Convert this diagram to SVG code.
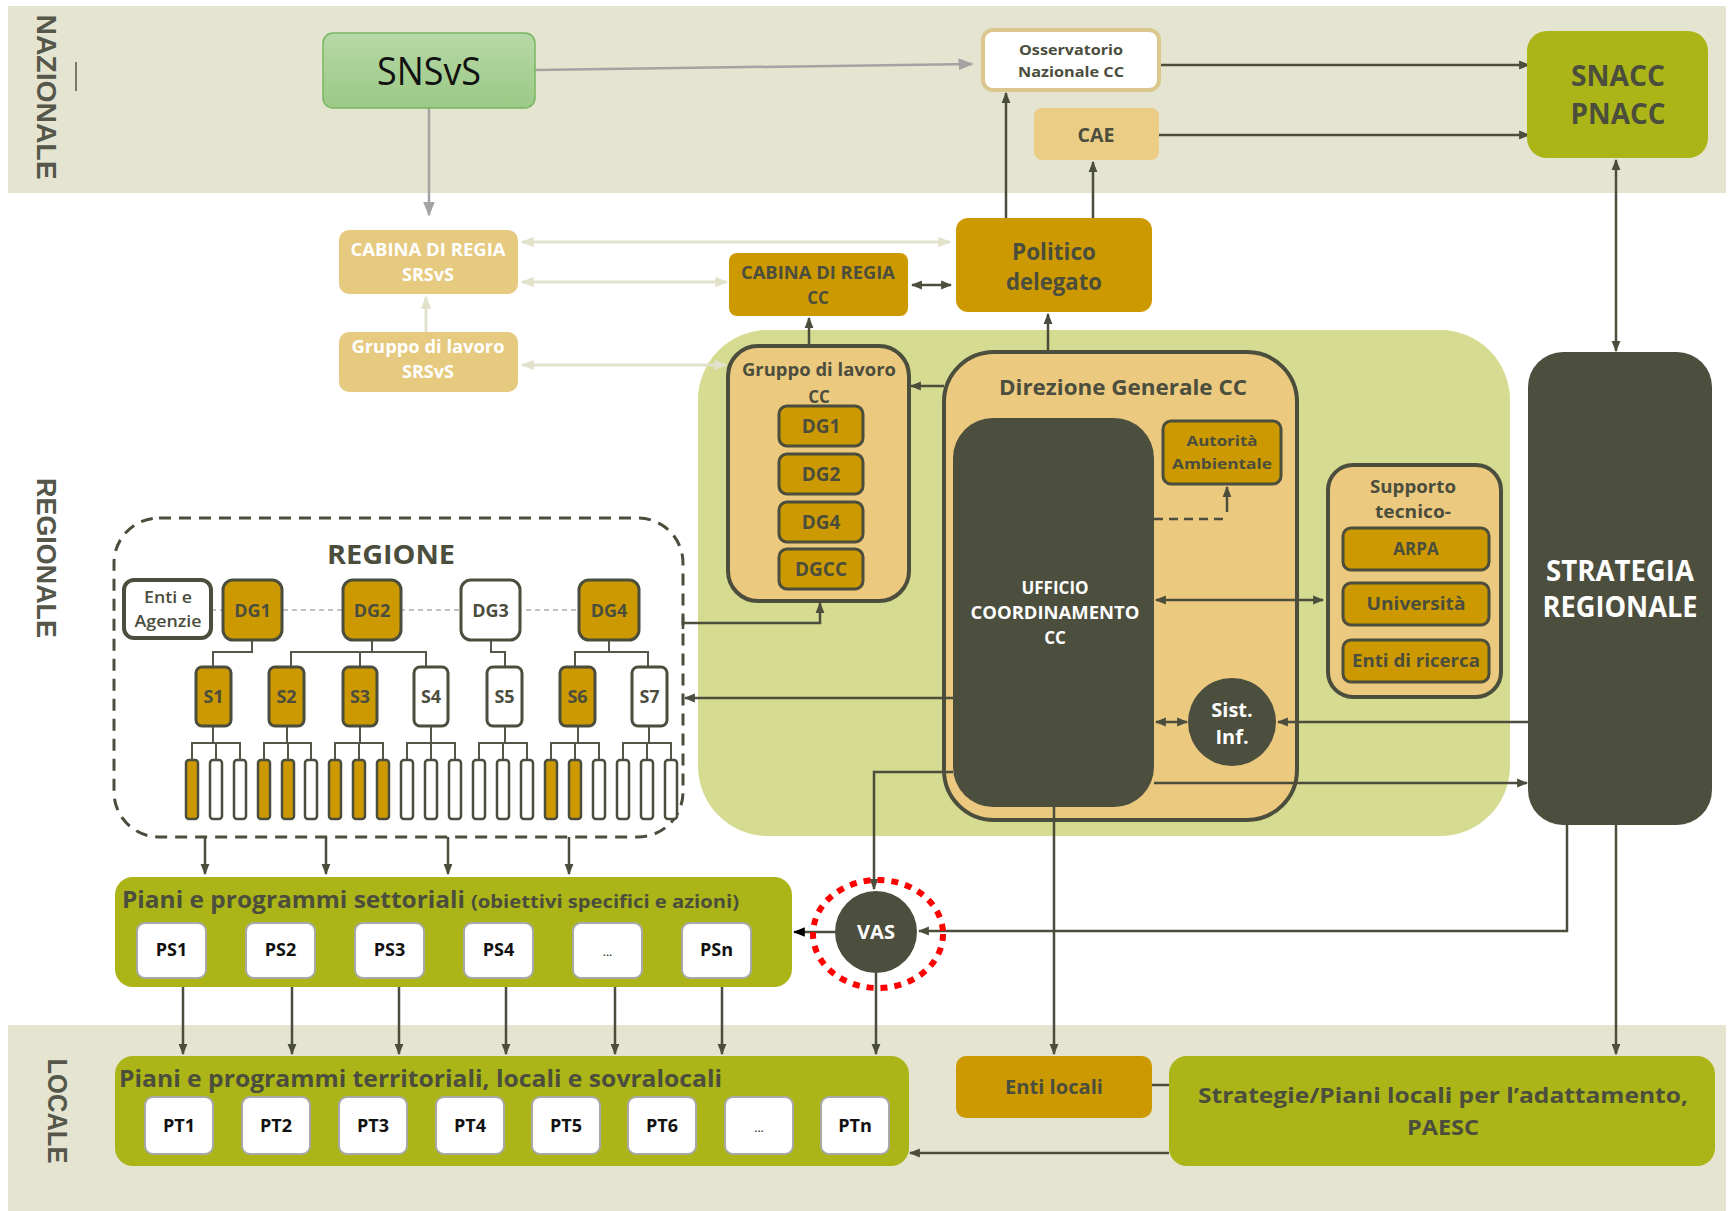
<svg xmlns="http://www.w3.org/2000/svg" width="1731" height="1211" viewBox="0 0 1731 1211">
<defs>
<linearGradient id="gSn" x1="0" y1="0" x2="0" y2="1"><stop offset="0" stop-color="#B7D8A7"/><stop offset="1" stop-color="#9BC985"/></linearGradient>
<marker id="ad" viewBox="0 0 10 10" refX="9" refY="5" markerWidth="11" markerHeight="11" markerUnits="userSpaceOnUse" orient="auto-start-reverse"><path d="M0,1 L10,5 L0,9 z" fill="#4B4D3D"/></marker>
<marker id="ag" viewBox="0 0 10 10" refX="9" refY="5" markerWidth="15" markerHeight="15" markerUnits="userSpaceOnUse" orient="auto-start-reverse"><path d="M0,1 L10,5 L0,9 z" fill="#A3A3A3"/></marker>
<marker id="al" viewBox="0 0 10 10" refX="9" refY="5" markerWidth="13" markerHeight="13" markerUnits="userSpaceOnUse" orient="auto-start-reverse"><path d="M0,1 L10,5 L0,9 z" fill="#E2E1CC"/></marker>
<marker id="ak" viewBox="0 0 10 10" refX="9" refY="5" markerWidth="12" markerHeight="12" markerUnits="userSpaceOnUse" orient="auto-start-reverse"><path d="M0,1 L10,5 L0,9 z" fill="#000"/></marker>
<style>
.t{font-family:"Open Sans","Noto Sans","DejaVu Sans",sans-serif;font-weight:700;fill:#4B4D3D;text-anchor:middle}
.w{fill:#FFFFFF}
.k{fill:#111111}
.lbl{font-family:"Liberation Sans",Arial,sans-serif;font-weight:700;fill:#55574A;text-anchor:middle}
.band{fill:#E5E4D1}
.gold{fill:#CC9A00}
.goldb{fill:#CC9A00;stroke:#4B4D3D;stroke-width:3}
.wb{fill:#FFFFFF;stroke:#4B4D3D;stroke-width:3}
.tan{fill:#EBC97F;stroke:#4B4D3D;stroke-width:4}
.dark{fill:#4C4E3E}
.olive{fill:#ABB517}
.pbox{fill:#FFFFFF;stroke:#A8A8A8;stroke-width:2}
.c{fill:none;stroke:#4B4D3D;stroke-width:2.5}
.ct{fill:none;stroke:#55574A;stroke-width:2}
.cg{fill:none;stroke:#A3A3A3;stroke-width:2.5}
.cl{fill:none;stroke:#E2E1CC;stroke-width:3}
.bar{stroke:#4B4D3D;stroke-width:2.5}
</style>
</defs>
<rect width="1731" height="1211" fill="#FFFFFF"/>

<g id="bands">
<rect class="band" x="8" y="6" width="1718" height="187"/>
<rect class="band" x="8" y="1025" width="1718" height="186"/>
<text class="lbl" font-size="28" textLength="165" lengthAdjust="spacingAndGlyphs" transform="translate(36.5,97) rotate(90)">NAZIONALE</text>
<text class="lbl" font-size="28" textLength="160" lengthAdjust="spacingAndGlyphs" transform="translate(37,558) rotate(90)">REGIONALE</text>
<text class="lbl" font-size="28" textLength="105" lengthAdjust="spacingAndGlyphs" transform="translate(47.5,1111) rotate(90)">LOCALE</text>
<line x1="76" y1="62" x2="76" y2="91" stroke="#55574A" stroke-width="1.5"/>
</g>

<g id="area-regionale">
<rect x="698" y="330" width="812" height="506" rx="70" fill="#D5DB90"/>
</g>

<g id="regione">
<rect x="114" y="518" width="569" height="319" rx="45" fill="none" stroke="#4B4D3D" stroke-width="3" stroke-dasharray="12 8"/>
<text class="t" x="391" y="564" font-size="26" textLength="128" lengthAdjust="spacingAndGlyphs">REGIONE</text>
</g>

<g id="direzione">
<rect class="tan" x="944" y="352" width="353" height="468" rx="50"/>
<text class="t" x="1123" y="395" font-size="22" textLength="248" lengthAdjust="spacingAndGlyphs">Direzione Generale CC</text>
</g>

<g id="gruppo-cc">
<rect class="tan" x="728" y="346" width="181" height="255" rx="30"/>
<text class="t" x="819" y="376" font-size="17" textLength="154" lengthAdjust="spacingAndGlyphs">Gruppo di lavoro</text>
<text class="t" x="819" y="403" font-size="17">CC</text>
</g>

<g id="supporto">
<rect class="tan" x="1328" y="465" width="173" height="232" rx="25"/>
<text class="t" x="1413" y="493" font-size="17" textLength="86" lengthAdjust="spacingAndGlyphs">Supporto</text>
<text class="t" x="1413" y="518" font-size="17" textLength="76" lengthAdjust="spacingAndGlyphs">tecnico-</text>
</g>

<g id="connectors">
<path class="cg" d="M429,108 V215" marker-end="url(#ag)"/>
<path class="cg" d="M535,70 L972,64" marker-end="url(#ag)"/>
<path class="cl" d="M522,242 H950" marker-start="url(#al)" marker-end="url(#al)"/>
<path class="cl" d="M522,282 H727" marker-start="url(#al)" marker-end="url(#al)"/>
<path class="cl" d="M522,365 H726" marker-start="url(#al)" marker-end="url(#al)"/>
<path class="cl" d="M426,332 V297" marker-end="url(#al)"/>
<path class="c" d="M1006,218 V93" marker-end="url(#ad)"/>
<path class="c" d="M1093,218 V162" marker-end="url(#ad)"/>
<path class="c" d="M1159,65 H1529" marker-end="url(#ad)"/>
<path class="c" d="M1159,135 H1529" marker-end="url(#ad)"/>
<path class="c" d="M1616,160 V351" marker-start="url(#ad)" marker-end="url(#ad)"/>
<path class="c" d="M912,285 H951" marker-start="url(#ad)" marker-end="url(#ad)"/>
<path class="c" d="M809,346 V318" marker-end="url(#ad)"/>
<path class="c" d="M1048,352 V314" marker-end="url(#ad)"/>
<path class="c" d="M944,386 H911" marker-end="url(#ad)"/>
<path class="c" d="M683,623 H820 V603" marker-end="url(#ad)"/>
<path class="c" d="M683,617 V629"/>
<path class="c" d="M953,698 H685" marker-end="url(#ad)"/>
<path class="c" d="M953,772 H874 V889" marker-end="url(#ad)"/>
<path class="c" d="M1154,783 H1527" marker-end="url(#ad)"/>
<path class="c" d="M1528,722 H1278" marker-end="url(#ad)"/>
<path class="c" d="M1156,722 H1187" marker-start="url(#ad)" marker-end="url(#ad)"/>
<path class="c" d="M1156,600 H1323" marker-start="url(#ad)" marker-end="url(#ad)"/>
<path class="c" d="M1154,519 H1227" stroke-dasharray="9 6"/>
<path class="c" d="M1227,512 V487" marker-end="url(#ad)"/>
<path class="c" d="M1054,807 V1054" marker-end="url(#ad)"/>
<path class="c" d="M1567,825 V931 H919" marker-end="url(#ad)"/>
<path class="c" d="M835,932 H794" stroke="#000" marker-end="url(#ak)"/>
<path class="c" d="M876,973 V1054" marker-end="url(#ad)"/>
<path class="c" d="M1616,825 V1054" marker-end="url(#ad)"/>
<path class="c" d="M1169,1153 H910" marker-end="url(#ad)"/>
<path class="c" d="M1152,1085 H1169"/>
<path class="c" d="M205,837 V874" marker-end="url(#ad)"/>
<path class="c" d="M326,837 V874" marker-end="url(#ad)"/>
<path class="c" d="M448,837 V874" marker-end="url(#ad)"/>
<path class="c" d="M569,837 V874" marker-end="url(#ad)"/>
<path class="c" d="M183,987 V1054" marker-end="url(#ad)"/>
<path class="c" d="M292,987 V1054" marker-end="url(#ad)"/>
<path class="c" d="M399,987 V1054" marker-end="url(#ad)"/>
<path class="c" d="M506,987 V1054" marker-end="url(#ad)"/>
<path class="c" d="M615,987 V1054" marker-end="url(#ad)"/>
<path class="c" d="M722,987 V1054" marker-end="url(#ad)"/>
<line x1="211" y1="610" x2="579" y2="610" stroke="#AFAFAF" stroke-width="1.5" stroke-dasharray="5 4"/>
<path class="ct" d="M252,640 V652 H213 V667"/>
<path class="ct" d="M372,640 V652 M291,667 V652 H426 V667 M360,652 V667"/>
<path class="ct" d="M491,640 V652 H505 V667"/>
<path class="ct" d="M609,640 V652 M575,667 V652 H648 V667"/>
<path class="ct" d="M213,726 V743 M192,760 V743 H240 V760 M216,743 V760"/>
<path class="ct" d="M287,726 V743 M264,760 V743 H311 V760 M288,743 V760"/>
<path class="ct" d="M360,726 V743 M335,760 V743 H383 V760 M359,743 V760"/>
<path class="ct" d="M431,726 V743 M407,760 V743 H455 V760 M431,743 V760"/>
<path class="ct" d="M505,726 V743 M479,760 V743 H527 V760 M503,743 V760"/>
<path class="ct" d="M578,726 V743 M551,760 V743 H599 V760 M575,743 V760"/>
<path class="ct" d="M649,726 V743 M623,760 V743 H671 V760 M647,743 V760"/>
</g>

<g id="snsvs">
<rect x="323" y="33" width="212" height="75" rx="10" fill="url(#gSn)" stroke="#79B661" stroke-width="1.5"/>
<text class="t k" x="429" y="85" font-size="38" style="font-weight:400" textLength="104" lengthAdjust="spacingAndGlyphs">SNSvS</text>
</g>

<g id="osservatorio">
<rect x="983" y="30" width="176" height="60" rx="10" fill="#FFFFFF" stroke="#DCC78E" stroke-width="4"/>
<text class="t" x="1071" y="55" font-size="15" textLength="104" lengthAdjust="spacingAndGlyphs">Osservatorio</text>
<text class="t" x="1071" y="77" font-size="15" textLength="106" lengthAdjust="spacingAndGlyphs">Nazionale CC</text>
</g>

<g id="cae">
<rect x="1034" y="108" width="125" height="52" rx="8" fill="#EBCD86"/>
<text class="t" x="1096" y="142" font-size="20" textLength="37" lengthAdjust="spacingAndGlyphs">CAE</text>
</g>

<g id="snacc">
<rect class="olive" x="1527" y="31" width="181" height="127" rx="20"/>
<text class="t" x="1618" y="86" font-size="29" textLength="94" lengthAdjust="spacingAndGlyphs">SNACC</text>
<text class="t" x="1618" y="124" font-size="29" textLength="95" lengthAdjust="spacingAndGlyphs">PNACC</text>
</g>

<g id="politico">
<rect class="gold" x="956" y="218" width="196" height="94" rx="12"/>
<text class="t" x="1054" y="260" font-size="24" textLength="84" lengthAdjust="spacingAndGlyphs">Politico</text>
<text class="t" x="1054" y="290" font-size="24" textLength="96" lengthAdjust="spacingAndGlyphs">delegato</text>
</g>

<g id="cabina-cc">
<rect class="gold" x="729" y="253" width="179" height="63" rx="8"/>
<text class="t" x="818" y="279" font-size="17" textLength="154" lengthAdjust="spacingAndGlyphs">CABINA DI REGIA</text>
<text class="t" x="818" y="304" font-size="17">CC</text>
</g>

<g id="cabina-srsvs">
<rect x="339" y="230" width="179" height="64" rx="10" fill="#E6CA80"/>
<text class="t w" x="428" y="256" font-size="17" textLength="155" lengthAdjust="spacingAndGlyphs">CABINA DI REGIA</text>
<text class="t w" x="428" y="281" font-size="17" textLength="52" lengthAdjust="spacingAndGlyphs">SRSvS</text>
</g>

<g id="gruppo-srsvs">
<rect x="339" y="332" width="179" height="60" rx="10" fill="#E6CA80"/>
<text class="t w" x="428" y="353" font-size="17" textLength="153" lengthAdjust="spacingAndGlyphs">Gruppo di lavoro</text>
<text class="t w" x="428" y="378" font-size="17" textLength="52" lengthAdjust="spacingAndGlyphs">SRSvS</text>
</g>

<g id="gruppo-cc-dg1"><rect class="goldb" x="779" y="406" width="84" height="40" rx="8"/><text class="t" x="821" y="433" font-size="19">DG1</text></g>
<g id="gruppo-cc-dg2"><rect class="goldb" x="779" y="454" width="84" height="40" rx="8"/><text class="t" x="821" y="481" font-size="19">DG2</text></g>
<g id="gruppo-cc-dg4"><rect class="goldb" x="779" y="502" width="84" height="40" rx="8"/><text class="t" x="821" y="529" font-size="19">DG4</text></g>
<g id="gruppo-cc-dgcc"><rect class="goldb" x="779" y="549" width="84" height="40" rx="8"/><text class="t" x="821" y="576" font-size="19">DGCC</text></g>

<g id="ufficio">
<rect class="dark" x="953" y="418" width="201" height="389" rx="40"/>
<text class="t w" x="1055" y="594" font-size="17">UFFICIO</text>
<text class="t w" x="1055" y="619" font-size="17" textLength="169" lengthAdjust="spacingAndGlyphs">COORDINAMENTO</text>
<text class="t w" x="1055" y="644" font-size="17">CC</text>
</g>

<g id="autorita">
<rect class="goldb" x="1163" y="421" width="118" height="63" rx="8"/>
<text class="t" x="1222" y="446" font-size="15" textLength="71" lengthAdjust="spacingAndGlyphs">Autorità</text>
<text class="t" x="1222" y="469" font-size="15" textLength="100" lengthAdjust="spacingAndGlyphs">Ambientale</text>
</g>

<g id="sist-inf">
<circle class="dark" cx="1232" cy="722" r="44"/>
<text class="t w" x="1232" y="717" font-size="20">Sist.</text>
<text class="t w" x="1232" y="744" font-size="20">Inf.</text>
</g>

<g id="arpa"><rect class="goldb" x="1343" y="528" width="146" height="42" rx="8" stroke-width="3.5"/><text class="t" x="1416" y="555" font-size="17">ARPA</text></g>
<g id="universita"><rect class="goldb" x="1343" y="583" width="146" height="42" rx="8" stroke-width="3.5"/><text class="t" x="1416" y="610" font-size="17" textLength="99" lengthAdjust="spacingAndGlyphs">Università</text></g>
<g id="enti-ricerca"><rect class="goldb" x="1343" y="640" width="146" height="42" rx="8" stroke-width="3.5"/><text class="t" x="1416" y="667" font-size="17" textLength="128" lengthAdjust="spacingAndGlyphs">Enti di ricerca</text></g>

<g id="strategia-regionale">
<rect class="dark" x="1528" y="352" width="184" height="473" rx="35"/>
<text class="t w" x="1620" y="581" font-size="28" textLength="148" lengthAdjust="spacingAndGlyphs">STRATEGIA</text>
<text class="t w" x="1620" y="617" font-size="28" textLength="155" lengthAdjust="spacingAndGlyphs">REGIONALE</text>
</g>

<g id="enti-agenzie">
<rect x="124" y="580" width="87" height="58" rx="10" fill="#FFFFFF" stroke="#4B4D3D" stroke-width="4"/>
<text class="t" x="168" y="603" font-size="16" style="font-weight:600" textLength="48" lengthAdjust="spacingAndGlyphs">Enti e</text>
<text class="t" x="168" y="627" font-size="16" style="font-weight:600" textLength="67" lengthAdjust="spacingAndGlyphs">Agenzie</text>
</g>
<g id="dg1"><rect class="goldb" x="223" y="580" width="59" height="60" rx="10"/><text class="t" x="252.5" y="617" font-size="18">DG1</text></g>
<g id="dg2"><rect class="goldb" x="343" y="580" width="58" height="60" rx="10"/><text class="t" x="372" y="617" font-size="18">DG2</text></g>
<g id="dg3"><rect class="wb" x="461" y="580" width="59" height="60" rx="10"/><text class="t" x="490.5" y="617" font-size="18">DG3</text></g>
<g id="dg4"><rect class="goldb" x="579" y="580" width="60" height="60" rx="10"/><text class="t" x="609" y="617" font-size="18">DG4</text></g>

<g id="s1"><rect class="goldb" x="196" y="667" width="35" height="59" rx="6"/><text class="t" x="213.5" y="703" font-size="18">S1</text></g>
<g id="s2"><rect class="goldb" x="269" y="667" width="35" height="59" rx="6"/><text class="t" x="286.5" y="703" font-size="18">S2</text></g>
<g id="s3"><rect class="goldb" x="343" y="667" width="34" height="59" rx="6"/><text class="t" x="360" y="703" font-size="18">S3</text></g>
<g id="s4"><rect class="wb" x="414" y="667" width="34" height="59" rx="6"/><text class="t" x="431" y="703" font-size="18">S4</text></g>
<g id="s5"><rect class="wb" x="487" y="667" width="35" height="59" rx="6"/><text class="t" x="504.5" y="703" font-size="18">S5</text></g>
<g id="s6"><rect class="goldb" x="560" y="667" width="35" height="59" rx="6"/><text class="t" x="577.5" y="703" font-size="18">S6</text></g>
<g id="s7"><rect class="wb" x="632" y="667" width="35" height="59" rx="6"/><text class="t" x="649.5" y="703" font-size="18">S7</text></g>

<g id="uffici">
<rect class="bar" fill="#CC9A00" x="186" y="760" width="12" height="59" rx="3"/>
<rect class="bar" fill="#FFFFFF" x="210" y="760" width="12" height="59" rx="3"/>
<rect class="bar" fill="#FFFFFF" x="234" y="760" width="12" height="59" rx="3"/>
<rect class="bar" fill="#CC9A00" x="258" y="760" width="12" height="59" rx="3"/>
<rect class="bar" fill="#CC9A00" x="282" y="760" width="12" height="59" rx="3"/>
<rect class="bar" fill="#FFFFFF" x="305" y="760" width="12" height="59" rx="3"/>
<rect class="bar" fill="#CC9A00" x="329" y="760" width="12" height="59" rx="3"/>
<rect class="bar" fill="#CC9A00" x="353" y="760" width="12" height="59" rx="3"/>
<rect class="bar" fill="#CC9A00" x="377" y="760" width="12" height="59" rx="3"/>
<rect class="bar" fill="#FFFFFF" x="401" y="760" width="12" height="59" rx="3"/>
<rect class="bar" fill="#FFFFFF" x="425" y="760" width="12" height="59" rx="3"/>
<rect class="bar" fill="#FFFFFF" x="449" y="760" width="12" height="59" rx="3"/>
<rect class="bar" fill="#FFFFFF" x="473" y="760" width="12" height="59" rx="3"/>
<rect class="bar" fill="#FFFFFF" x="497" y="760" width="12" height="59" rx="3"/>
<rect class="bar" fill="#FFFFFF" x="521" y="760" width="12" height="59" rx="3"/>
<rect class="bar" fill="#CC9A00" x="545" y="760" width="12" height="59" rx="3"/>
<rect class="bar" fill="#CC9A00" x="569" y="760" width="12" height="59" rx="3"/>
<rect class="bar" fill="#FFFFFF" x="593" y="760" width="12" height="59" rx="3"/>
<rect class="bar" fill="#FFFFFF" x="617" y="760" width="12" height="59" rx="3"/>
<rect class="bar" fill="#FFFFFF" x="641" y="760" width="12" height="59" rx="3"/>
<rect class="bar" fill="#FFFFFF" x="665" y="760" width="12" height="59" rx="3"/>
</g>

<g id="piani-settoriali">
<rect class="olive" x="115" y="877" width="677" height="110" rx="18"/>
<text class="t" x="122" y="908" font-size="23" style="text-anchor:start" textLength="343" lengthAdjust="spacingAndGlyphs">Piani e programmi settoriali</text>
<text class="t" x="471" y="908" font-size="18" style="text-anchor:start" textLength="268" lengthAdjust="spacingAndGlyphs">(obiettivi specifici e azioni)</text>
</g>
<g id="ps1"><rect class="pbox" x="137" y="923" width="69" height="55" rx="8"/><text class="t k" x="171.5" y="956" font-size="18">PS1</text></g>
<g id="ps2"><rect class="pbox" x="246" y="923" width="69" height="55" rx="8"/><text class="t k" x="280.5" y="956" font-size="18">PS2</text></g>
<g id="ps3"><rect class="pbox" x="355" y="923" width="69" height="55" rx="8"/><text class="t k" x="389.5" y="956" font-size="18">PS3</text></g>
<g id="ps4"><rect class="pbox" x="464" y="923" width="69" height="55" rx="8"/><text class="t k" x="498.5" y="956" font-size="18">PS4</text></g>
<g id="ps-dots"><rect class="pbox" x="573" y="923" width="69" height="55" rx="8"/><text class="t k" x="607.5" y="956" font-size="12" style="font-weight:400">...</text></g>
<g id="psn"><rect class="pbox" x="682" y="923" width="69" height="55" rx="8"/><text class="t k" x="716.5" y="956" font-size="18">PSn</text></g>

<g id="vas">
<circle class="dark" cx="876" cy="932" r="41"/>
<ellipse cx="878" cy="934" rx="65" ry="54" fill="none" stroke="#FF0000" stroke-width="6" stroke-dasharray="7 7"/>
<text class="t w" x="876" y="939" font-size="19" textLength="38" lengthAdjust="spacingAndGlyphs">VAS</text>
</g>

<g id="piani-territoriali">
<rect class="olive" x="115" y="1056" width="794" height="110" rx="18"/>
<text class="t" x="119" y="1087" font-size="23" style="text-anchor:start" textLength="603" lengthAdjust="spacingAndGlyphs">Piani e programmi territoriali, locali e sovralocali</text>
</g>
<g id="pt1"><rect class="pbox" x="145" y="1097" width="68" height="57" rx="8"/><text class="t k" x="179" y="1132" font-size="18">PT1</text></g>
<g id="pt2"><rect class="pbox" x="242" y="1097" width="68" height="57" rx="8"/><text class="t k" x="276" y="1132" font-size="18">PT2</text></g>
<g id="pt3"><rect class="pbox" x="339" y="1097" width="68" height="57" rx="8"/><text class="t k" x="373" y="1132" font-size="18">PT3</text></g>
<g id="pt4"><rect class="pbox" x="436" y="1097" width="68" height="57" rx="8"/><text class="t k" x="470" y="1132" font-size="18">PT4</text></g>
<g id="pt5"><rect class="pbox" x="532" y="1097" width="68" height="57" rx="8"/><text class="t k" x="566" y="1132" font-size="18">PT5</text></g>
<g id="pt6"><rect class="pbox" x="628" y="1097" width="68" height="57" rx="8"/><text class="t k" x="662" y="1132" font-size="18">PT6</text></g>
<g id="pt-dots"><rect class="pbox" x="725" y="1097" width="68" height="57" rx="8"/><text class="t k" x="759" y="1132" font-size="12" style="font-weight:400">...</text></g>
<g id="ptn"><rect class="pbox" x="821" y="1097" width="68" height="57" rx="8"/><text class="t k" x="855" y="1132" font-size="18">PTn</text></g>

<g id="enti-locali">
<rect class="gold" x="956" y="1056" width="196" height="62" rx="10"/>
<text class="t" x="1054" y="1094" font-size="19" textLength="98" lengthAdjust="spacingAndGlyphs">Enti locali</text>
</g>

<g id="strategie-locali">
<rect class="olive" x="1169" y="1056" width="546" height="110" rx="18"/>
<text class="t" x="1443" y="1103" font-size="22" textLength="490" lengthAdjust="spacingAndGlyphs">Strategie/Piani locali per l’adattamento,</text>
<text class="t" x="1443" y="1135" font-size="22" textLength="72" lengthAdjust="spacingAndGlyphs">PAESC</text>
</g>
</svg>
